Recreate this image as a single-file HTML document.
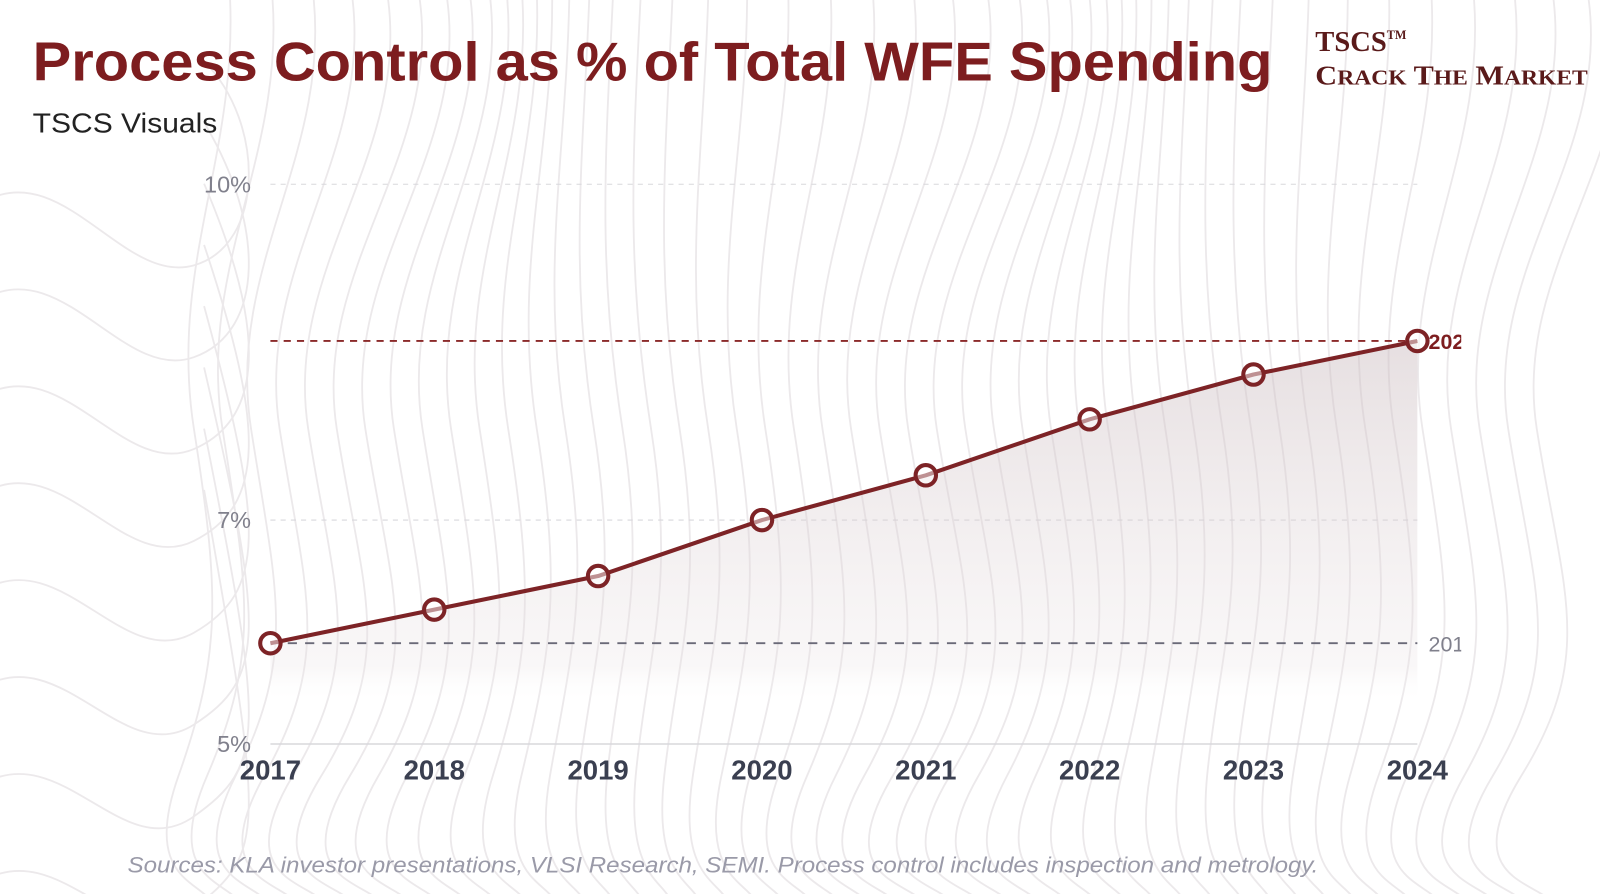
<!DOCTYPE html>
<html><head><meta charset="utf-8"><style>
html,body{margin:0;padding:0;background:#fff;overflow:hidden;}
svg{display:block;font-family:"Liberation Sans",sans-serif;}
</style></head><body>
<svg id="chart" width="1600" height="894" viewBox="0 0 1568 876" preserveAspectRatio="none" xmlns="http://www.w3.org/2000/svg">
<defs>
<linearGradient id="areaGrad" x1="0" y1="0" x2="0" y2="1">
<stop offset="0" stop-color="#c8b8bc" stop-opacity="0.45"/>
<stop offset="0.9" stop-color="#e8e0e2" stop-opacity="0.25"/>
<stop offset="1" stop-color="#ffffff" stop-opacity="0"/>
</linearGradient>
<clipPath id="labelClip"><rect x="0" y="0" width="1432" height="894"/></clipPath>
</defs>
<g id="bg" fill="none" stroke="#ecE9eb" stroke-width="1.8"></g>
<text x="32" y="79" font-size="54" font-weight="bold" fill="#7d1d1f" textLength="1215" lengthAdjust="spacingAndGlyphs">Process Control as % of Total WFE Spending</text>
<text x="32" y="130" font-size="27" fill="#222" textLength="181" lengthAdjust="spacingAndGlyphs">TSCS Visuals</text>
<g font-family="Liberation Serif, serif" font-weight="bold" fill="#5a1a1a">
<text x="1289" y="50" font-size="28">TSCS<tspan font-size="12" dy="-12">TM</tspan></text>
<text x="1289" y="83" font-size="27" textLength="267" lengthAdjust="spacingAndGlyphs">C<tspan font-size="21">RACK</tspan> T<tspan font-size="21">HE</tspan> M<tspan font-size="21">ARKET</tspan></text>
</g>
<g id="grid"></g>
<g id="area"></g>
<g id="refs"></g>
<g id="series"></g>
<g id="axes"></g>
<text x="125" y="855" font-size="22" font-style="italic" fill="#9a9aa8" textLength="1167" lengthAdjust="spacingAndGlyphs">Sources: KLA investor presentations, VLSI Research, SEMI. Process control includes inspection and metrology.</text>
</svg>
<script>
const years = [2017, 2018, 2019, 2020, 2021, 2022, 2023, 2024];
const values = [5.9, 6.2, 6.5, 7.0, 7.4, 7.9, 8.3, 8.6];
const yTicks = [5, 7, 10];
const yTickLabels = ["5%", "7%", "10%"];

const NS = "http://www.w3.org/2000/svg";
const X0 = 265, X1 = 1389, Y5 = 729, PX = 109.7;
function xs(i){ return X0 + (X1 - X0) * i / (years.length - 1); }
function ys(v){ return Y5 - (v - 5) * PX; }
function mk(tag, attrs, parent){ const e = document.createElementNS(NS, tag); for (const k in attrs) e.setAttribute(k, attrs[k]); parent.appendChild(e); return e; }

// background contours (decorative)
const bg = document.getElementById('bg');
for (let k = 0; k < 48; k++) {
  const bx = 200 + k * 28;
  const sw = 45 * Math.sin(k * 0.3) + 25;
  const d = "M" + (bx + sw) + " -10 C" + (bx + sw * 1.4) + " 150 " + (bx - 35) + " 260 " + (bx - 10) + " 420 S" + (bx + sw * 0.7) + " 640 " + (bx - 25) + " 760 S" + (bx + 20) + " 860 " + (bx + 10) + " 900";
  const p = mk('path', {d}, bg);
  
  
}
for (let k = 0; k < 8; k++) {
  const d = "M-20 " + (200 + k * 95) + " C60 " + (150 + k * 95) + " 120 " + (280 + k * 95) + " 190 " + (260 + k * 90) + " S260 " + (120 + k * 100) + " 200 " + (60 + k * 60);
  const p = mk('path', {d}, bg);
  
  
}

// grid
const grid = document.getElementById('grid');
yTicks.forEach((t, i) => {
  const y = ys(t);
  const l = mk('line', {x1: 265, x2: 1389, y1: y, y2: y, stroke: '#d8d8dc', 'stroke-width': i === 0 ? 1.5 : 1, 'stroke-dasharray': i === 0 ? '' : '5 5'}, grid);
  
  
  const tx = mk('text', {x: 246, y: y + 8, 'text-anchor': 'end', 'font-size': 23, fill: '#80808c'}, grid);
  
  
  tx.textContent = yTickLabels[i];
});

// area
const area = document.getElementById('area');
let d = "M" + xs(0) + " " + ys(values[0]);
values.forEach((v, i) => { d += " L" + xs(i) + " " + ys(v); });
d += " L" + xs(values.length - 1) + " " + (Y5 - 40) + " L" + xs(0) + " " + (Y5 - 40) + " Z";
const ap = mk('path', {d, fill: 'url(#areaGrad)'}, area);



// reference lines
const refs = document.getElementById('refs');
const last = values[values.length - 1], first = values[0];
const r1 = mk('line', {x1: 265, x2: 1389, y1: ys(last), y2: ys(last), stroke: '#8b2a2a', 'stroke-width': 1.8, 'stroke-dasharray': '7 6'}, refs);


const r2 = mk('line', {x1: 265, x2: 1389, y1: ys(first), y2: ys(first), stroke: '#6a6a78', 'stroke-width': 1.8, 'stroke-dasharray': '9 8'}, refs);


const lg = mk('g', {'clip-path': 'url(#labelClip)'}, refs);
const t1 = mk('text', {x: 1400, y: ys(last) + 8, 'font-size': 21, 'font-weight': 'bold', fill: '#7d1d1f'}, lg);


t1.textContent = String(years[years.length - 1]);
const t2 = mk('text', {x: 1400, y: ys(first) + 8, 'font-size': 21, fill: '#80808c'}, lg);


t2.textContent = String(years[0]);

// series
const series = document.getElementById('series');
const pts = values.map((v, i) => xs(i) + "," + ys(v)).join(" ");
const pl = mk('polyline', {points: pts, fill: 'none', stroke: '#7d2326', 'stroke-width': 4, 'stroke-linejoin': 'round'}, series);


values.forEach((v, i) => {
  const c = mk('circle', {cx: xs(i), cy: ys(v), r: 10, fill: 'rgba(255,255,255,0.5)', stroke: '#7d2326', 'stroke-width': 4}, series);
  
  
});

// x axis labels
const axes = document.getElementById('axes');
years.forEach((yr, i) => {
  const t = mk('text', {x: xs(i), y: 764, 'text-anchor': 'middle', 'font-size': 27, 'font-weight': 'bold', fill: '#3a3f50'}, axes);
  
  
  t.textContent = String(yr);
});
</script>
</body></html>
